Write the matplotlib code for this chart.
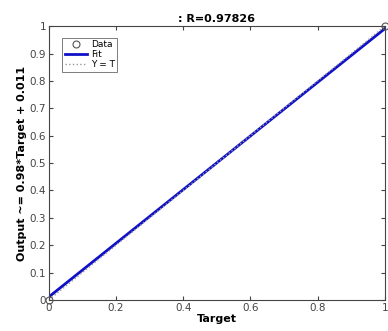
import matplotlib
matplotlib.use("Agg")
import matplotlib.pyplot as plt

# données
target = [0.0, 1.0]
output = [0.0, 1.0]
fit_x = [0.0, 1.0]
slope = 0.98
offset = 0.011
r_value = 0.97826

fit_y = [slope * x + offset for x in fit_x]

fig = plt.figure(figsize=(3.88, 3.31), dpi=100)
ax = fig.add_axes([0.126, 0.094, 0.866, 0.827])

ax.plot(target, output, 'o', markersize=5, markerfacecolor='none',
        markeredgecolor='#555555', markeredgewidth=0.8, label='Data', clip_on=False, zorder=5)
ax.plot(fit_x, fit_y, '-', color='#1010c8', linewidth=2, label='Fit')
ax.plot(target, target, ':', color='#999999', linewidth=1, label='Y = T')

ax.set_xlim(0, 1)
ax.set_ylim(0, 1)
ax.set_xticks([0, 0.2, 0.4, 0.6, 0.8, 1])
ax.set_xticklabels(['0', '0.2', '0.4', '0.6', '0.8', '1'])
ax.set_yticks([0, 0.1, 0.2, 0.3, 0.4, 0.5, 0.6, 0.7, 0.8, 0.9, 1])
ax.set_yticklabels(['0', '0.1', '0.2', '0.3', '0.4', '0.5', '0.6', '0.7', '0.8', '0.9', '1'])
ax.tick_params(direction='in', length=3, labelsize=7.5, colors='#444444',
               top=True, right=True, pad=2)
for s in ax.spines.values():
    s.set_color('#444444')
    s.set_linewidth(0.8)

ax.set_xlabel('Target', fontsize=8, fontweight='bold', labelpad=1)
ax.set_ylabel(f'Output ~= {slope}*Target + {offset}', fontsize=8, fontweight='bold', labelpad=2)
ax.set_title(f': R={r_value}', fontsize=8, fontweight='bold', pad=3)

leg = ax.legend(loc='upper left', fontsize=6.5, frameon=True, fancybox=False,
                edgecolor='#444444', borderpad=0.3, labelspacing=0.1,
                handlelength=2.5, handletextpad=0.4, bbox_to_anchor=(0.025, 0.975))
leg.get_frame().set_linewidth(0.6)

fig.savefig('out.png', dpi=100)
